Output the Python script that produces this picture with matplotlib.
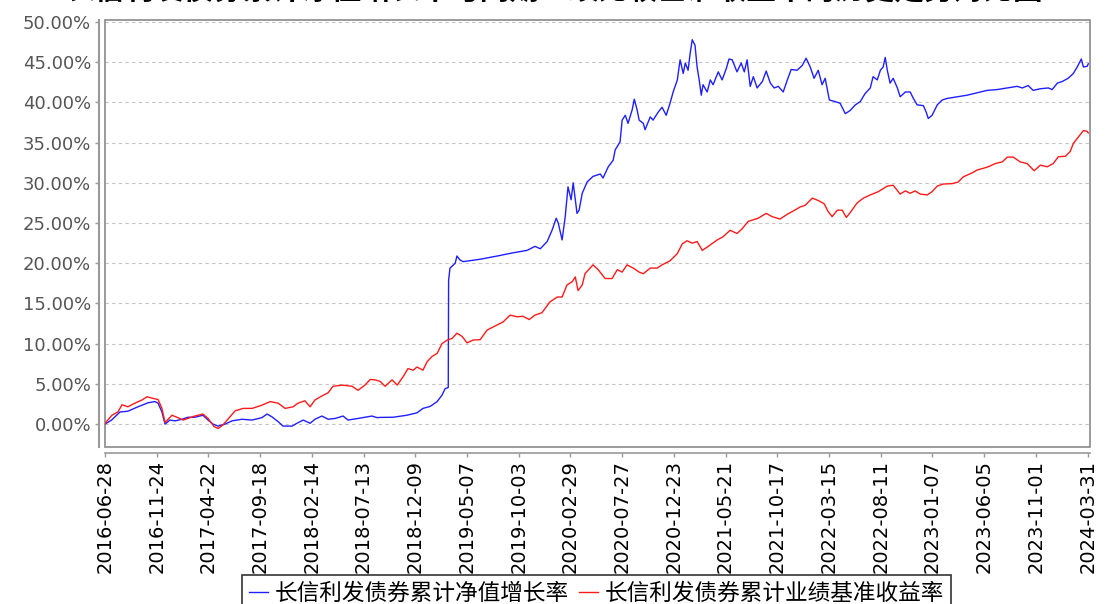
import numpy as np
import pandas as pd
import matplotlib
matplotlib.use('Agg')
import matplotlib.pyplot as plt
from matplotlib.patches import Rectangle

title = '长信利发债券累计净值增长率与同期业绩比较基准收益率的历史走势对比图'
fund_label = '长信利发债券累计净值增长率'
bench_label = '长信利发债券累计业绩基准收益率'

start_date = '2016-06-28'
end_date = '2024-03-31'

tick_labels = ['2016-06-28', '2016-11-24', '2017-04-22', '2017-09-18', '2018-02-14',
               '2018-07-13', '2018-12-09', '2019-05-07', '2019-10-03', '2020-02-29',
               '2020-07-27', '2020-12-23', '2021-05-21', '2021-10-17', '2022-03-15',
               '2022-08-11', '2023-01-07', '2023-06-05', '2023-11-01', '2024-03-31']

# days since inception / cumulative return in %
fund_days = [0, 19, 43, 66, 95, 124, 144, 153, 164, 173, 187, 202, 222, 239, 259, 282,
             297, 311, 326, 346, 366, 395, 424, 452, 467, 481, 499, 513, 539, 553, 571,
             591, 605, 625, 643, 663, 686, 700, 729, 769, 784, 793, 830, 870, 899, 916,
             937, 957, 971, 980, 989, 990, 994, 1009, 1014, 1023, 1032, 1081, 1130, 1176,
             1216, 1239, 1254, 1274, 1288, 1300, 1306, 1317, 1326, 1334, 1343, 1349, 1355,
             1360, 1366, 1375, 1389, 1406, 1427, 1435, 1450, 1464, 1470, 1484, 1490, 1499,
             1507, 1519, 1525, 1533, 1539, 1551, 1556, 1571, 1579, 1594, 1605, 1617, 1628,
             1637, 1649, 1657, 1666, 1672, 1680, 1686, 1692, 1700, 1706, 1712, 1718, 1723,
             1735, 1744, 1752, 1767, 1778, 1790, 1798, 1807, 1821, 1833, 1842, 1850, 1859,
             1868, 1879, 1894, 1905, 1917, 1928, 1940, 1954, 1966, 1977, 1994, 2009, 2020,
             2032, 2043, 2055, 2066, 2075, 2087, 2104, 2118, 2133, 2147, 2162, 2176, 2190,
             2205, 2213, 2225, 2234, 2242, 2248, 2254, 2262, 2271, 2283, 2291, 2306, 2320,
             2329, 2340, 2358, 2366, 2372, 2383, 2398, 2412, 2427, 2455, 2484, 2513, 2542,
             2571, 2600, 2628, 2643, 2660, 2674, 2695, 2718, 2729, 2744, 2758, 2775, 2790,
             2801, 2813, 2819, 2830, 2833]
fund_values = [0.0, 0.5, 1.5, 1.6, 2.15, 2.65, 2.8, 2.6, 1.5, 0.0, 0.5, 0.4, 0.6, 0.85, 0.85, 1.1,
               0.5, 0.0, -0.25, 0.0, 0.4, 0.6, 0.5, 0.8, 1.25, 0.9, 0.3, -0.25, -0.25, 0.1, 0.5,
               0.1, 0.6, 1.0, 0.6, 0.7, 1.0, 0.5, 0.7, 1.0, 0.8, 0.83, 0.85, 1.1, 1.4, 1.95,
               2.2, 2.8, 3.6, 4.4, 4.55, 17.9, 19.4, 20.0, 20.9, 20.4, 20.2, 20.5, 20.9, 21.3,
               21.6, 22.1, 21.8, 22.7, 24.1, 25.6, 25.0, 22.9, 25.8, 29.5, 27.9, 30.0, 27.9,
               26.2, 26.6, 28.7, 30.1, 30.8, 31.1, 30.6, 32.0, 32.8, 34.1, 35.1, 37.8, 38.4,
               37.4, 39.1, 40.4, 39.1, 37.8, 37.4, 36.6, 38.2, 37.8, 38.8, 39.4, 38.4, 39.9,
               41.3, 42.8, 45.3, 43.6, 44.9, 44.0, 46.1, 47.8, 47.1, 44.4, 42.8, 40.9, 42.2,
               41.3, 42.8, 42.2, 43.8, 42.8, 44.2, 45.4, 45.3, 43.8, 44.9, 43.8, 45.3, 42.0,
               43.2, 41.8, 42.6, 43.9, 42.4, 41.8, 42.0, 41.3, 42.8, 44.1, 44.0, 44.6, 45.5,
               44.4, 43.0, 44.0, 42.2, 43.0, 40.3, 40.1, 39.9, 38.6, 39.0, 39.7, 40.1, 41.1,
               41.8, 43.2, 42.8, 44.0, 44.4, 45.6, 44.0, 42.4, 43.0, 41.8, 40.7, 41.3, 41.3,
               40.5, 39.7, 39.6, 38.8, 38.0, 38.4, 39.7, 40.3, 40.5, 40.7, 40.9, 41.2, 41.5,
               41.6, 41.8, 42.0, 41.8, 42.1, 41.5, 41.7, 41.8, 41.6, 42.4, 42.6, 43.0, 43.6,
               44.4, 45.4, 44.4, 44.5, 44.8]

bench_days = [0, 6, 20, 37, 49, 66, 86, 107, 121, 138, 153, 164, 173, 193, 210, 225, 239,
              259, 282, 297, 314, 326, 340, 354, 375, 398, 424, 452, 476, 499, 519, 542, 556,
              576, 591, 605, 625, 643, 657, 683, 712, 729, 749, 764, 778, 793, 807, 827, 842,
              859, 873, 888, 899, 916, 928, 942, 957, 971, 986, 1000, 1014, 1029, 1043, 1061,
              1081, 1101, 1124, 1147, 1167, 1187, 1205, 1222, 1239, 1259, 1282, 1303, 1317,
              1331, 1346, 1355, 1363, 1375, 1383, 1406, 1421, 1441, 1461, 1476, 1490, 1504,
              1522, 1539, 1551, 1571, 1591, 1605, 1628, 1649, 1663, 1677, 1692, 1706, 1721,
              1738, 1764, 1781, 1801, 1821, 1836, 1853, 1868, 1882, 1905, 1922, 1945, 1966,
              1983, 2003, 2017, 2038, 2055, 2072, 2084, 2095, 2110, 2124, 2136, 2147, 2167,
              2185, 2205, 2228, 2254, 2271, 2291, 2306, 2320, 2334, 2349, 2369, 2383, 2398,
              2415, 2441, 2458, 2473, 2499, 2513, 2530, 2545, 2565, 2585, 2600, 2617, 2637,
              2657, 2677, 2695, 2715, 2732, 2747, 2767, 2781, 2790, 2801, 2819, 2830, 2833]
bench_values = [0.0, 0.4, 1.1, 1.5, 2.4, 2.15, 2.6, 3.0, 3.4, 3.2, 3.05, 1.95, 0.2, 1.1, 0.8,
                0.5, 0.7, 1.0, 1.25, 0.7, -0.3, -0.55, -0.1, 0.6, 1.65, 1.95, 1.95, 2.35, 2.8,
                2.6, 1.95, 2.15, 2.6, 2.9, 2.15, 3.0, 3.5, 3.9, 4.7, 4.85, 4.7, 4.2, 4.85, 5.55,
                5.5, 5.3, 4.7, 5.5, 4.85, 5.9, 6.9, 6.7, 7.1, 6.7, 7.75, 8.4, 8.8, 10.0, 10.45,
                10.65, 11.3, 10.9, 10.1, 10.45, 10.5, 11.7, 12.2, 12.7, 13.55, 13.35, 13.4,
                13.0, 13.55, 13.85, 15.2, 15.8, 15.8, 17.3, 17.7, 18.3, 16.6, 17.3, 18.7, 19.8,
                19.2, 18.1, 18.1, 19.2, 18.9, 19.8, 19.4, 18.9, 18.7, 19.4, 19.4, 19.8, 20.3,
                21.2, 22.4, 22.8, 22.5, 22.7, 21.6, 22.1, 22.9, 23.3, 24.1, 23.7, 24.3, 25.2,
                25.4, 25.6, 26.2, 25.8, 25.5, 26.1, 26.5, 27.0, 27.2, 28.1, 27.8, 27.4, 26.4,
                25.8, 26.6, 26.6, 25.7, 26.3, 27.5, 28.1, 28.5, 28.9, 29.6, 29.7, 28.6, 29.0,
                28.7, 29.0, 28.6, 28.5, 28.9, 29.6, 29.85, 29.9, 30.1, 30.75, 31.25, 31.6, 31.8,
                32.0, 32.4, 32.6, 33.2, 33.2, 32.6, 32.4, 31.5, 32.2, 32.0, 32.4, 33.25, 33.3,
                33.9, 34.9, 35.5, 36.5, 36.4, 36.2]

y_ticks = [0, 5, 10, 15, 20, 25, 30, 35, 40, 45, 50]

plt.rcParams['font.family'] = ['DejaVu Sans']
cjk = ['Noto Sans CJK SC', 'DejaVu Sans']

t0 = pd.Timestamp(start_date)
t_end = pd.Timestamp(end_date)
fund_dates = t0 + pd.to_timedelta(fund_days, unit='D')
bench_dates = t0 + pd.to_timedelta(bench_days, unit='D')
tick_dates = pd.to_datetime(tick_labels)

W, H = 1105, 604
fig = plt.figure(figsize=(W / 100, H / 100), dpi=100)
ax = fig.add_axes([105 / W, 1 - 447 / H, (1090 - 105) / W, (447 - 20) / H])

ax.plot(fund_dates, fund_values, color='#1f1fff', lw=1.0, label=fund_label)
ax.plot(bench_dates, bench_values, color='#ff1a1a', lw=1.0, label=bench_label)

ax.set_xlim(t0, t_end + pd.Timedelta(days=5))
ax.set_ylim(-2.85, 50.25)

ax.set_yticks(y_ticks)
ax.set_yticklabels(['{:.2f}%'.format(v) for v in y_ticks])
ax.set_xticks(tick_dates)
ax.set_xticklabels(tick_labels)

ax.grid(axis='y', color='#c4c4c4', linestyle=(0, (3, 3)), lw=0.8)
ax.set_axisbelow(True)

for side in ['top', 'right']:
    ax.spines[side].set_visible(False)
ax.spines['left'].set_position(('outward', 4))
ax.spines['bottom'].set_position(('outward', 4.5))
ax.spines['left'].set_color('#999999')
ax.spines['bottom'].set_color('#999999')
ax.spines['left'].set_linewidth(1.5)
ax.spines['bottom'].set_linewidth(1.2)
ax.tick_params(axis='both', color='#999999', length=3, width=1)
ax.tick_params(axis='y', pad=3, labelsize=13, labelcolor='#555555')
ax.tick_params(axis='x', pad=2, labelrotation=90, labelsize=14, labelcolor='black')

ax.add_patch(Rectangle((0, 0), 1, 1, transform=ax.transAxes, fill=False,
                       edgecolor='#8a8a8a', lw=1.2, clip_on=False))

fig.text(0.502, 1 - 5.5 / H, title, ha='center', va='bottom', fontsize=21.3,
         fontweight='bold', family=cjk)

leg = fig.legend(loc='upper left', bbox_to_anchor=(242 / W, 1 - 575 / H), ncol=2,
                 frameon=True, fancybox=False, edgecolor='black',
                 prop={'family': cjk, 'size': 16.3}, handlelength=0.85,
                 handletextpad=0.3, columnspacing=0.45, borderpad=0.3,
                 borderaxespad=0)
leg.get_frame().set_linewidth(1.2)

fig.savefig('out.png', dpi=100)
